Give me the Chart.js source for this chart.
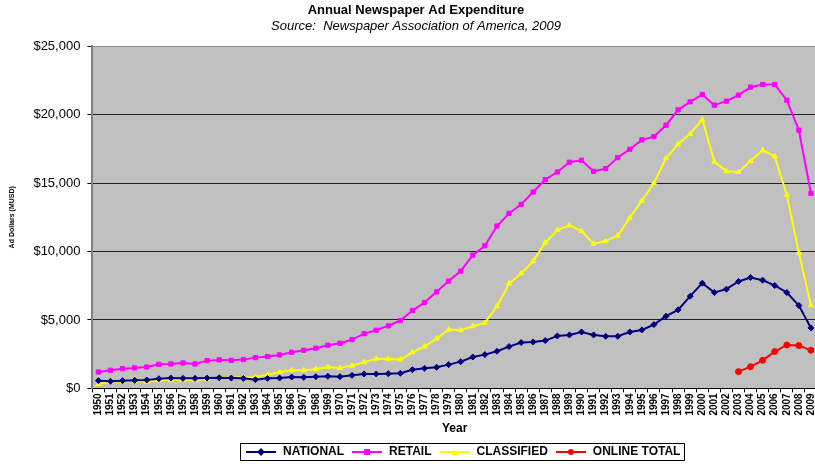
<!DOCTYPE html>
<html>
<head>
<meta charset="utf-8">
<script src="https://cdn.jsdelivr.net/npm/chart.js@4.4.0/dist/chart.umd.min.js"></script>
<style>
html, body { margin: 0; background: #fff; overflow: hidden; }
/* a bit wider than the window so the plot runs to the right edge */
#wrap { width: 824px; height: 464px; }
</style>
</head>
<body>
<div id="wrap"><canvas id="myChart"></canvas></div>
<script>
// years on the x axis
const years = ['1950','1951','1952','1953','1954','1955','1956','1957','1958','1959',
  '1960','1961','1962','1963','1964','1965','1966','1967','1968','1969',
  '1970','1971','1972','1973','1974','1975','1976','1977','1978','1979',
  '1980','1981','1982','1983','1984','1985','1986','1987','1988','1989',
  '1990','1991','1992','1993','1994','1995','1996','1997','1998','1999',
  '2000','2001','2002','2003','2004','2005','2006','2007','2008','2009']

// millions of dollars
const national = [560, 515, 560, 585, 610, 705, 755, 730, 730, 755,
  780, 755, 730, 635, 730, 755, 830, 805, 855, 880,
  855, 950, 1050, 1050, 1075, 1100, 1365, 1465, 1540, 1735,
  1950, 2290, 2465, 2710, 3050, 3345, 3390, 3490, 3830, 3905,
  4120, 3905, 3805, 3805, 4120, 4270, 4660, 5270, 5735, 6735,
  7685, 7005, 7245, 7810, 8100, 7905, 7515, 7005, 6050, 4415]

const retail = [1195, 1320, 1440, 1490, 1560, 1755, 1780, 1855, 1780, 2025,
  2075, 2050, 2100, 2245, 2320, 2440, 2635, 2780, 2930, 3150,
  3295, 3560, 4000, 4245, 4565, 4955, 5685, 6270, 7050, 7835,
  8565, 9735, 10420, 11860, 12785, 13445, 14345, 15250, 15810, 16520,
  16665, 15860, 16055, 16860, 17470, 18155, 18395, 19225, 20350, 20935,
  21470, 20690, 20985, 21425, 22010, 22205, 22205, 21055, 18860, 14250]

const classified = [315, 465, 510, 560, 490, 585, 635, 635, 610, 685,
  805, 780, 805, 830, 1000, 1195, 1320, 1320, 1415, 1560,
  1490, 1660, 1905, 2170, 2145, 2100, 2635, 3050, 3635, 4295,
  4240, 4540, 4780, 6000, 7660, 8395, 9295, 10640, 11565, 11905,
  11490, 10565, 10760, 11150, 12470, 13710, 15005, 16810, 17835, 18595,
  19640, 16565, 15860, 15810, 16615, 17395, 16960, 14130, 9905, 6075]

const onlineYears = ['2003','2004','2005','2006','2007','2008','2009']
const onlineTotal = [1220, 1585, 2050, 2685, 3170, 3125, 2780]

const yTicks = [0, 5000, 10000, 15000, 20000, 25000]

// small legend icon: line with the marker in the middle
function legendIcon(color, shape) {
  let c = document.createElement('canvas')
  c.width = 30
  c.height = 10
  let ctx = c.getContext('2d')
  ctx.strokeStyle = color
  ctx.fillStyle = color
  ctx.lineWidth = 2
  ctx.beginPath()
  ctx.moveTo(0, 5)
  ctx.lineTo(30, 5)
  ctx.stroke()
  ctx.beginPath()
  if (shape == 'rect') {
    ctx.rect(12, 2, 6, 6)
  } else if (shape == 'rectRot') {
    ctx.moveTo(15, 1); ctx.lineTo(19, 5); ctx.lineTo(15, 9); ctx.lineTo(11, 5)
  } else if (shape == 'triangle') {
    ctx.moveTo(15, 2); ctx.lineTo(18, 8); ctx.lineTo(12, 8)
  } else {
    ctx.arc(15, 5, 3, 0, Math.PI * 2)
  }
  ctx.closePath()
  ctx.fill()
  return c
}

// gray plot background
const plotBg = {
  id: 'plotBg',
  beforeDraw(chart) {
    let a = chart.chartArea
    let ctx = chart.ctx
    ctx.save()
    ctx.fillStyle = '#c0c0c0'
    ctx.fillRect(a.left, a.top, a.right - a.left, a.bottom - a.top)
    ctx.restore()
  }
}

const LEGEND_SHIFT = 8

// nudge the legend to the right like in the original
const legendShift = {
  id: 'legendShift',
  afterLayout(chart) {
    let lg = chart.legend
    lg.left += LEGEND_SHIFT
    lg.right += LEGEND_SHIFT
  }
}

// black frame round the legend items
const legendFrame = {
  id: 'legendFrame',
  afterDraw(chart) {
    let lg = chart.legend
    let boxes = lg.legendHitBoxes
    if (!boxes || !boxes.length) return
    let w = boxes.reduce((s, b) => s + b.width, 0) + lg.options.labels.padding * (boxes.length - 1)
    let mid = (lg.left + lg.right) / 2
    let l = mid - w / 2 - 5
    let r = mid + w / 2 + 4
    let t = boxes[0].top - 3
    let btm = boxes[0].top + boxes[0].height + 2
    let ctx = chart.ctx
    ctx.save()
    ctx.strokeStyle = '#000'
    ctx.lineWidth = 1
    ctx.strokeRect(Math.round(l) + 0.5, Math.round(t) + 0.5, Math.round(r - l), Math.round(btm - t))
    ctx.restore()
  }
}

const FONT = '"Liberation Sans", Arial, sans-serif'

let myChart = document.getElementById('myChart').getContext('2d')

const lineChart = new Chart(myChart, {
  type: 'line',
  data: {
    labels: years,
    datasets: [{
      label: 'NATIONAL',
      data: national,
      borderColor: '#000080',
      backgroundColor: '#000080',
      pointStyle: 'rectRot',
      icon: legendIcon('#000080', 'rectRot')
    }, {
      label: 'RETAIL',
      data: retail,
      borderColor: '#ff00ff',
      backgroundColor: '#ff00ff',
      pointStyle: 'rect',
      icon: legendIcon('#ff00ff', 'rect')
    }, {
      label: 'CLASSIFIED',
      data: classified,
      borderColor: '#ffff00',
      backgroundColor: '#ffff00',
      pointStyle: 'triangle',
      icon: legendIcon('#ffff00', 'triangle')
    }, {
      label: 'ONLINE TOTAL',
      data: onlineYears.map((y, i) => ({ x: y, y: onlineTotal[i] })),
      borderColor: '#ff0000',
      backgroundColor: '#ff0000',
      pointStyle: 'circle',
      icon: legendIcon('#ff0000', 'circle')
    }]
  },
  options: {
    responsive: true,
    maintainAspectRatio: false,
    animation: false,
    layout: { padding: { left: 8, right: 0, top: 0, bottom: -4 } },
    elements: {
      line: { borderWidth: 2, tension: 0 },
      point: { radius: 3, borderWidth: 1 }
    },
    scales: {
      x: {
        offset: true,
        grid: { display: true, offset: true, drawOnChartArea: false, drawTicks: true, tickLength: 4, color: '#000' },
        border: { color: '#000' },
        ticks: {
          autoSkip: false,
          minRotation: 90,
          maxRotation: 90,
          padding: 1,
          color: '#000',
          font: { family: FONT, size: 10, weight: 'bold' }
        },
        title: {
          display: true,
          text: 'Year',
          color: '#000',
          padding: { top: 5, bottom: 3 },
          font: { family: FONT, size: 12, weight: 'bold' }
        }
      },
      y: {
        min: 0,
        max: 25000,
        afterBuildTicks: axis => { axis.ticks = yTicks.map(v => ({ value: v })) },
        grid: {
          color: ctx => ctx.tick && ctx.tick.value == 25000 ? '#8c8c8c' : '#202020',
          tickColor: '#000',
          tickLength: 5
        },
        border: { color: '#808080', width: 2 },
        ticks: {
          color: '#000',
          padding: 7,
          font: { family: FONT, size: 13 },
          callback: v => '$' + v.toLocaleString('en-US')
        },
        title: {
          display: true,
          text: 'Ad Dollars (MUSD)',
          color: '#000',
          padding: { top: 0, bottom: 10 },
          font: { family: FONT, size: 7, weight: 'bold' }
        }
      }
    },
    plugins: {
      title: {
        display: true,
        text: 'Annual Newspaper Ad Expenditure',
        color: '#000',
        padding: { top: 3, bottom: 0 },
        font: { family: FONT, size: 13, weight: 'bold' }
      },
      subtitle: {
        display: true,
        text: 'Source:  Newspaper Association of America, 2009',
        color: '#000',
        padding: { top: 0, bottom: 12 },
        font: { family: FONT, size: 13, style: 'italic' }
      },
      legend: {
        position: 'bottom',
        fullSize: false,
        labels: {
          usePointStyle: true,
          pointStyleWidth: 32,
          boxHeight: 10,
          padding: 7,
          color: '#000',
          font: { family: FONT, size: 12, weight: 'bold' },
          generateLabels: chart => chart.data.datasets.map((ds, i) => ({
            text: ds.label,
            pointStyle: ds.icon,
            fontColor: '#000',
            strokeStyle: ds.borderColor,
            fillStyle: ds.backgroundColor,
            lineWidth: 0,
            hidden: false,
            datasetIndex: i
          }))
        }
      },
      tooltip: { enabled: false }
    }
  },
  plugins: [plotBg, legendShift, legendFrame]
})
</script>
</body>
</html>
